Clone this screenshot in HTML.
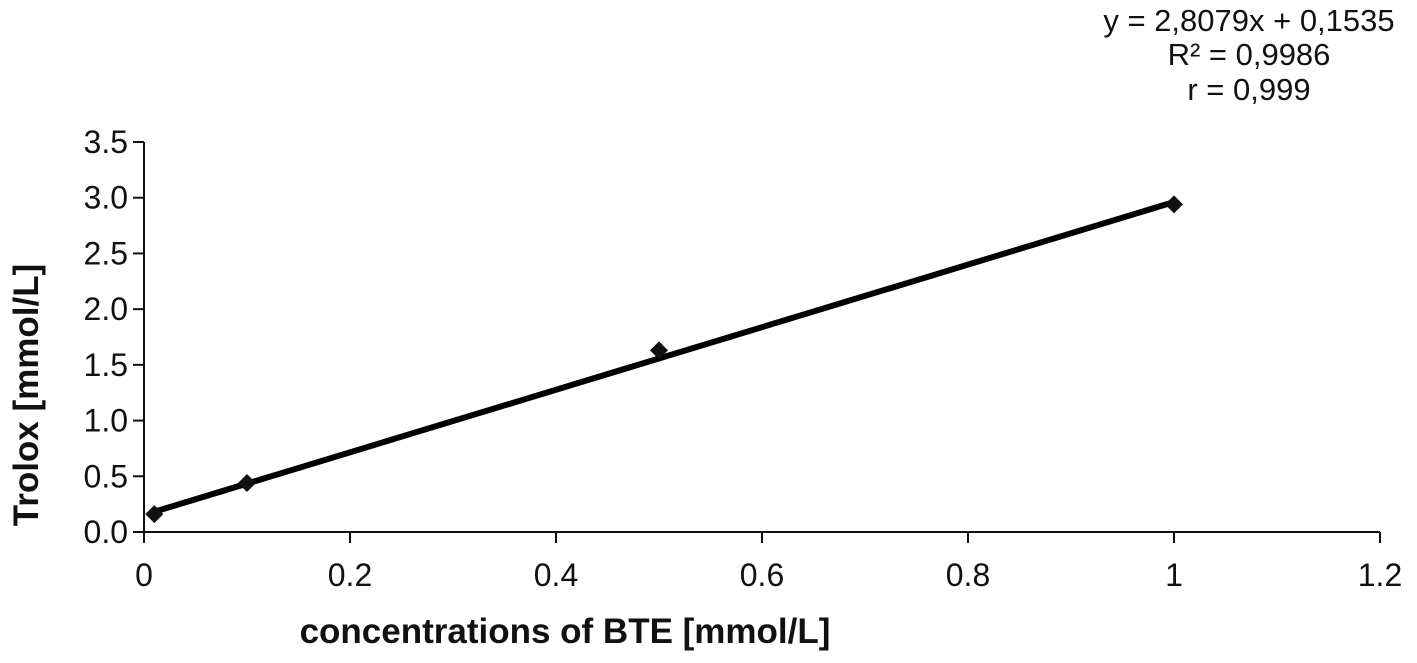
<!DOCTYPE html>
<html><head><meta charset="utf-8"><style>
body{margin:0;background:#fff;}
svg text{font-family:"Liberation Sans",Arial,sans-serif;fill:#111;}
</style></head><body>
<svg width="1417" height="658" xmlns="http://www.w3.org/2000/svg">
<g id="axes"></g>
<g id="marks"></g>
<text x="1249" y="31" font-size="31" text-anchor="middle">y = 2,8079x + 0,1535</text>
<text x="1249" y="65" font-size="31" text-anchor="middle">R² = 0,9986</text>
<text x="1249" y="100" font-size="31" text-anchor="middle">r = 0,999</text>
<text x="565" y="643" font-size="35" font-weight="bold" text-anchor="middle">concentrations of BTE [mmol/L]</text>
<text transform="translate(38,395) rotate(-90)" font-size="35" font-weight="bold" text-anchor="middle">Trolox [mmol/L]</text>
</svg>
<script>
const xValues=[0.01,0.1,0.5,1];
const yValues=[0.16,0.44,1.63,2.94];
const slope=2.8079, intercept=0.1535;
const xTicks=[0,0.2,0.4,0.6,0.8,1,1.2];
const xTickLabels=["0","0.2","0.4","0.6","0.8","1","1.2"];
const yTicks=[0,0.5,1,1.5,2,2.5,3,3.5];
const yTickLabels=["0.0","0.5","1.0","1.5","2.0","2.5","3.0","3.5"];
const NS="http://www.w3.org/2000/svg";
const X0=144,X1=1380,Y0=532,Y1=142;
const sx=v=>X0+(v-0)/1.2*(X1-X0);
const sy=v=>Y0-(v/3.5)*(Y0-Y1);
function mk(t,a,p){const e=document.createElementNS(NS,t);for(const k in a)e.setAttribute(k,a[k]);p.appendChild(e);return e;}
const ax=document.getElementById('axes'),mg=document.getElementById('marks');
let l=mk('line',{x1:X0,y1:Y0,x2:X1,y2:Y0,stroke:'#111','stroke-width':2},ax);


l=mk('line',{x1:X0,y1:Y0,x2:X0,y2:Y1,stroke:'#111','stroke-width':2},ax);


xTicks.forEach((v,i)=>{
 const t=mk('line',{x1:sx(v),y1:Y0,x2:sx(v),y2:Y0+11,stroke:'#111','stroke-width':2},ax);
 
 
 const tx=mk('text',{x:sx(v),y:Y0+54,'font-size':32,'text-anchor':'middle'},ax);
 tx.textContent=xTickLabels[i];
 
 
});
yTicks.forEach((v,i)=>{
 const t=mk('line',{x1:X0-11,y1:sy(v),x2:X0,y2:sy(v),stroke:'#111','stroke-width':2},ax);
 
 
 const tx=mk('text',{x:X0-16,y:sy(v)+11,'font-size':32,'text-anchor':'end'},ax);
 tx.textContent=yTickLabels[i];
 
 
});
const xa=xValues[0],xb=xValues[xValues.length-1];
const tl=mk('line',{x1:sx(xa),y1:sy(slope*xa+intercept),x2:sx(xb),y2:sy(slope*xb+intercept),stroke:'#000','stroke-width':6},mg);


xValues.forEach((v,i)=>{
 const cx=sx(v),cy=sy(yValues[i]),r=9;
 const p=mk('polygon',{points:`${cx},${cy-r} ${cx+r},${cy} ${cx},${cy+r} ${cx-r},${cy}`,fill:'#111'},mg);
 
 
});
</script>
</body></html>
